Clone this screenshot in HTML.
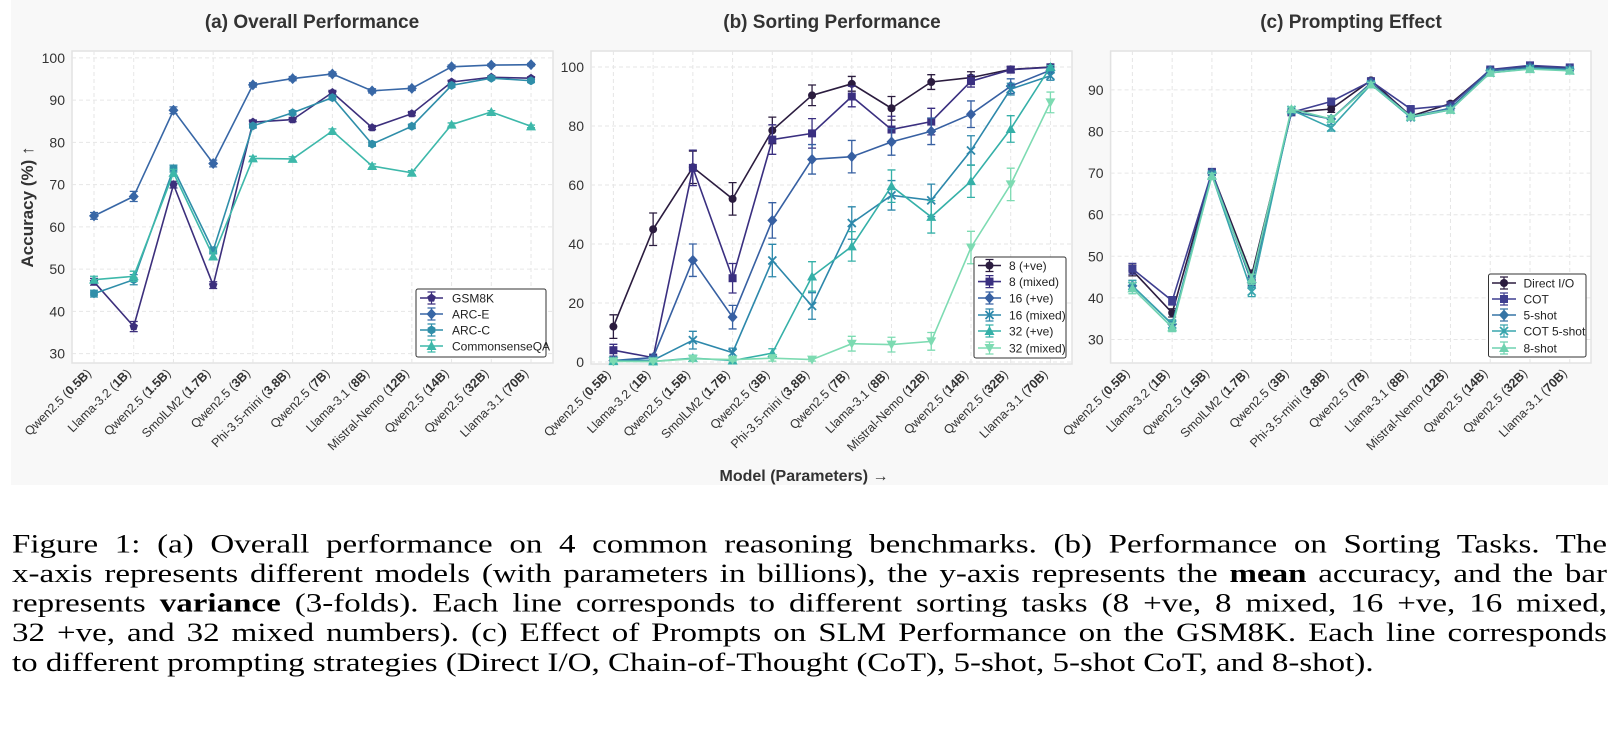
<!DOCTYPE html>
<html><head><meta charset="utf-8">
<style>
html,body{margin:0;padding:0;background:#fff;}
body{width:1619px;height:747px;overflow:hidden;position:relative;font-family:"Liberation Sans",sans-serif;}
#fig{position:absolute;left:0;top:0;}
#capwrap{position:absolute;left:12px;top:530px;width:1595px;transform:scaleY(0.8);transform-origin:0 0;}
.cap{width:1595px;font-family:"Liberation Serif",serif;font-size:33px;line-height:37px;height:37px;text-align:justify;text-align-last:justify;color:#000;white-space:nowrap;}
</style></head>
<body>
<svg id="fig" width="1619" height="500" xmlns="http://www.w3.org/2000/svg"></svg>
<div id="capwrap">
<div class="cap">Figure 1: (a) Overall performance on 4 common reasoning benchmarks. (b) Performance on Sorting Tasks. The</div>
<div class="cap">x-axis represents different models (with parameters in billions), the y-axis represents the <b>mean</b> accuracy, and the bar</div>
<div class="cap">represents <b>variance</b> (3-folds). Each line corresponds to different sorting tasks (8 +ve, 8 mixed, 16 +ve, 16 mixed,</div>
<div class="cap">32 +ve, and 32 mixed numbers). (c) Effect of Prompts on SLM Performance on the GSM8K. Each line corresponds</div>
<div class="cap" style="text-align-last:left">to different prompting strategies (Direct I/O, Chain-of-Thought (CoT), 5-shot, 5-shot CoT, and 8-shot).</div>
</div>
<script>
const modelNames = ["Qwen2.5","Llama-3.2","Qwen2.5","SmolLM2","Qwen2.5","Phi-3.5-mini","Qwen2.5","Llama-3.1","Mistral-Nemo","Qwen2.5","Qwen2.5","Llama-3.1"];
const modelParams = ["0.5B","1B","1.5B","1.7B","3B","3.8B","7B","8B","12B","14B","32B","70B"];

const aTicks = [30,40,50,60,70,80,90,100];
const aGSM8K = [47.0,36.4,70.0,46.2,84.8,85.4,91.8,83.5,86.8,94.3,95.4,95.2];
const aARCE  = [62.6,67.2,87.6,75.0,93.6,95.1,96.2,92.2,92.8,97.9,98.3,98.4];
const aARCC  = [44.2,47.5,73.8,54.4,83.9,87.0,90.6,79.6,83.8,93.5,95.2,94.6];
const aCSQA  = [47.5,48.3,72.8,53.0,76.2,76.1,82.7,74.4,72.8,84.2,87.2,83.8];
const aErr   = [0.8,1.2,0.8,0.8,0.5,0.5,0.5,0.5,0.5,0.4,0.3,0.3];

const bTicks = [0,20,40,60,80,100];
const b8pos  = [12,45,66,55.3,78.5,90.4,94.3,86,94.9,96.4,99.2,100];
const b8posE = [4,5.5,5.5,5.5,4.5,3.5,2.5,4,2.5,2,1,0.5];
const b8mix  = [4,1.5,65.8,28.4,75.4,77.5,90,78.8,81.5,95.2,99.1,99.9];
const b8mixE = [2,0.5,6,5,5,5,3.5,4.5,4.5,2,1,0.5];
const b16pos = [0.5,1.5,34.5,15.2,48,68.7,69.6,74.6,78.2,84,93.5,98.9];
const b16posE= [0.5,0.5,5.5,4,6,5,5.5,4.5,4.5,4.5,2.5,1];
const b16mix = [0.5,0.6,7.4,3.2,34.4,19,47.1,56.5,54.8,71.7,92.5,97];
const b16mixE= [0.5,0.5,3,1.5,5.5,4.5,5.5,5,5.5,5,2,1.5];
const b32pos = [0.3,0.2,1.3,0.5,3,29,39.2,59.6,49.2,61.3,79,100];
const b32posE= [0.3,0.2,1,0.5,1.5,5,5,5.5,5.5,5.5,4.5,0.5];
const b32mix = [0.2,0.2,1.1,0.8,1.3,0.8,6.2,5.9,7,38.8,60.2,88];
const b32mixE= [0.2,0.2,0.8,0.5,1,0.5,2.5,2.5,3,5.5,5.5,3.5];

const cTicks = [30,40,50,60,70,80,90];
const cDirect = [46.6,36.4,70.2,45.5,84.6,85.4,92.3,83.7,86.7,94.7,95.6,95.1];
const cCOT    = [47.0,39.3,70.3,43.7,84.6,87.2,92.1,85.4,86.3,94.9,95.9,95.4];
const c5shot  = [42.9,33.7,70.0,43.7,84.8,83.0,91.7,83.6,85.6,94.6,95.4,95.0];
const cCOT5   = [42.9,33.6,69.5,41.5,85.2,80.9,91.3,83.4,85.2,94.1,95.1,94.7];
const c8shot  = [42.3,32.9,69.3,44.5,85.4,83.0,91.3,83.6,85.2,94.1,95.0,94.6];
const cErr    = [1.3,1.0,0.6,1.2,0.5,0.8,0.5,0.5,0.5,0.4,0.3,0.3];

const NS="http://www.w3.org/2000/svg";
const svg=document.getElementById('fig');
function mk(tag,attrs,parent){const e=document.createElementNS(NS,tag);for(const k in attrs)e.setAttribute(k,attrs[k]);(parent||svg).appendChild(e);return e;}

const bgR=mk('rect',{x:11,y:0,width:1597,height:485,fill:'#f8f8f8'});



function marker(g,shape,x,y,c){
  let e;const s=4.5;
  if(shape==='circle'){e=mk('circle',{cx:x,cy:y,r:4,fill:c},g);}
  else if(shape==='square'){e=mk('rect',{x:x-4,y:y-4,width:8,height:8,fill:c},g);}
  else if(shape==='diamond'){e=mk('polygon',{points:`${x},${y-5.5} ${x+5},${y} ${x},${y+5.5} ${x-5},${y}`,fill:c},g);}
  else if(shape==='hex'){let p=[];for(let k=0;k<6;k++){const a=Math.PI/3*k+Math.PI/6;p.push((x+s*Math.cos(a)).toFixed(1)+','+(y+s*Math.sin(a)).toFixed(1));}e=mk('polygon',{points:p.join(' '),fill:c},g);}
  else if(shape==='pent'){let p=[];for(let k=0;k<5;k++){const a=-Math.PI/2+2*Math.PI/5*k;p.push((x+s*Math.cos(a)).toFixed(1)+','+(y+s*Math.sin(a)).toFixed(1));}e=mk('polygon',{points:p.join(' '),fill:c},g);}
  else if(shape==='tri'){e=mk('polygon',{points:`${x},${y-5} ${x+5},${y+4} ${x-5},${y+4}`,fill:c},g);}
  else if(shape==='trid'){e=mk('polygon',{points:`${x},${y+5} ${x+5},${y-4} ${x-5},${y-4}`,fill:c},g);}
  else if(shape==='x'){e=mk('path',{d:`M${x-4},${y-4}L${x+4},${y+4}M${x-4},${y+4}L${x+4},${y-4}`,stroke:c,'stroke-width':1.8,fill:'none'},g);}
  
  
}

function panel(cfg){
  const g=mk('g',{});
  
  
  const X=i=>cfg.px0+i*cfg.step;
  const Y=v=>cfg.yRef+(cfg.vRef-v)*cfg.k;
  const pr=mk('rect',{x:cfg.x0,y:cfg.y0,width:cfg.x1-cfg.x0,height:cfg.y1-cfg.y0,fill:'#ffffff',stroke:'#e2e2e2','stroke-width':1.5},g);
  
  
  cfg.ticks.forEach(t=>{
    const gl=mk('line',{x1:cfg.x0,x2:cfg.x1,y1:Y(t),y2:Y(t),stroke:'#e6e6e6','stroke-dasharray':'4,3','stroke-width':1},g);
    
    
    const tl=mk('text',{x:cfg.x0-7,y:Y(t)+5,'text-anchor':'end','font-size':14,fill:'#333'},g);
    tl.textContent=t;
    
    
  });
  modelNames.forEach((m,i)=>{
    const gl=mk('line',{x1:X(i),x2:X(i),y1:cfg.y0,y2:cfg.y1,stroke:'#e6e6e6','stroke-dasharray':'4,3','stroke-width':1},g);
    
    
    const tx=X(i)-2, ty=cfg.y1+11;
    const t=mk('text',{x:tx,y:ty,'text-anchor':'end','font-size':12.5,fill:'#333',transform:`rotate(-45 ${tx} ${ty})`},g);
    
    
    const s1=mk('tspan',{},t);s1.textContent=m+' (';
    const s2=mk('tspan',{'font-weight':'bold'},t);s2.textContent=modelParams[i];
    const s3=mk('tspan',{},t);s3.textContent=')';
  });
  const title=mk('text',{x:cfg.tx,y:28,'text-anchor':'middle','font-size':19,'font-weight':'bold',fill:'#333'},g);
  title.textContent=cfg.title;
  
  
  cfg.series.forEach(s=>{
    const sg=mk('g',{},g);
    
    
    const pts=s.vals.map((v,i)=>X(i).toFixed(1)+','+Y(v).toFixed(1)).join(' ');
    const pl=mk('polyline',{points:pts,fill:'none',stroke:s.color,'stroke-width':1.6},sg);
    
    
    s.vals.forEach((v,i)=>{
      const e=s.err[i];
      const eb=mk('path',{d:`M${X(i)},${Y(v+e)}V${Y(v-e)}M${X(i)-4},${Y(v+e)}H${X(i)+4}M${X(i)-4},${Y(v-e)}H${X(i)+4}`,stroke:s.color,'stroke-width':1.3,fill:'none'},sg);
      
      
      marker(sg,s.shape,X(i),Y(v),s.color);
    });
  });
  const L=cfg.legend;
  const lg=mk('g',{},g);
  
  
  mk('rect',{x:L.x0,y:L.y0,width:L.x1-L.x0,height:L.y1-L.y0,fill:'#ffffff',stroke:'#333','stroke-width':1,rx:2},lg);
  cfg.series.forEach((s,j)=>{
    const ry=L.rows[j];
    const eg=mk('g',{},lg);
    
    
    mk('line',{x1:L.lx0,x2:L.lx1,y1:ry,y2:ry,stroke:s.color,'stroke-width':1.6},eg);
    const mx=(L.lx0+L.lx1)/2;
    mk('path',{d:`M${mx},${ry-6}V${ry+6}M${mx-4},${ry-6}H${mx+4}M${mx-4},${ry+6}H${mx+4}`,stroke:s.color,'stroke-width':1.2,fill:'none'},eg);
    marker(eg,s.shape,mx,ry,s.color);
    const t=mk('text',{x:L.tx,y:ry+4.5,'font-size':12,fill:'#222'},eg);
    t.textContent=s.label;
  });
}

panel({name:'panel-a-overall-performance',title:'(a) Overall Performance',tx:312,
  x0:72,x1:553,y0:51,y1:363,px0:94,step:39.73,yRef:57.9,vRef:100,k:4.224,ticks:aTicks,
  series:[
    {label:'GSM8K',vals:aGSM8K,err:aErr,color:'#3c2f7c',shape:'pent'},
    {label:'ARC-E',vals:aARCE,err:aErr,color:'#3867a6',shape:'diamond'},
    {label:'ARC-C',vals:aARCC,err:aErr,color:'#2f8ea9',shape:'hex'},
    {label:'CommonsenseQA',vals:aCSQA,err:aErr,color:'#3db8aa',shape:'tri'}],
  legend:{x0:416,x1:546,y0:289,y1:357,rows:[298,314,330,346],lx0:420,lx1:443,tx:452}});

panel({name:'panel-b-sorting-performance',title:'(b) Sorting Performance',tx:832,
  x0:591,x1:1072,y0:51,y1:364,px0:613.4,step:39.73,yRef:67,vRef:100,k:2.95,ticks:bTicks,
  series:[
    {label:'8 (+ve)',vals:b8pos,err:b8posE,color:'#2b1c3f',shape:'circle'},
    {label:'8 (mixed)',vals:b8mix,err:b8mixE,color:'#3a2f80',shape:'square'},
    {label:'16 (+ve)',vals:b16pos,err:b16posE,color:'#3760a2',shape:'diamond'},
    {label:'16 (mixed)',vals:b16mix,err:b16mixE,color:'#2d88ab',shape:'x'},
    {label:'32 (+ve)',vals:b32pos,err:b32posE,color:'#35b0a8',shape:'tri'},
    {label:'32 (mixed)',vals:b32mix,err:b32mixE,color:'#7ddbb2',shape:'trid'}],
  legend:{x0:974,x1:1066,y0:257,y1:358,rows:[265.5,281.6,298,315,331,348],lx0:978,lx1:1001,tx:1009}});

panel({name:'panel-c-prompting-effect',title:'(c) Prompting Effect',tx:1351,
  x0:1110.6,x1:1591,y0:51,y1:363,px0:1132.4,step:39.76,yRef:89.9,vRef:90,k:4.16,ticks:cTicks,
  series:[
    {label:'Direct I/O',vals:cDirect,err:cErr,color:'#2b1c3f',shape:'circle'},
    {label:'COT',vals:cCOT,err:cErr,color:'#3f3f90',shape:'square'},
    {label:'5-shot',vals:c5shot,err:cErr,color:'#3775a5',shape:'diamond'},
    {label:'COT 5-shot',vals:cCOT5,err:cErr,color:'#38a5ad',shape:'x'},
    {label:'8-shot',vals:c8shot,err:cErr,color:'#6fd2b0',shape:'tri'}],
  legend:{x0:1488.5,x1:1586,y0:274,y1:357,rows:[283,299,315,331,348],lx0:1492,lx1:1516,tx:1523.5}});

const yl=mk('text',{x:0,y:0,'text-anchor':'middle','font-size':17,'font-weight':'bold',fill:'#333',transform:'translate(33,207) rotate(-90)'});
yl.textContent='Accuracy (%) ↑';


const xl=mk('text',{x:804,y:481,'text-anchor':'middle','font-size':16,'font-weight':'bold',fill:'#333'});
xl.textContent='Model (Parameters) →';


</script>
</body></html>
